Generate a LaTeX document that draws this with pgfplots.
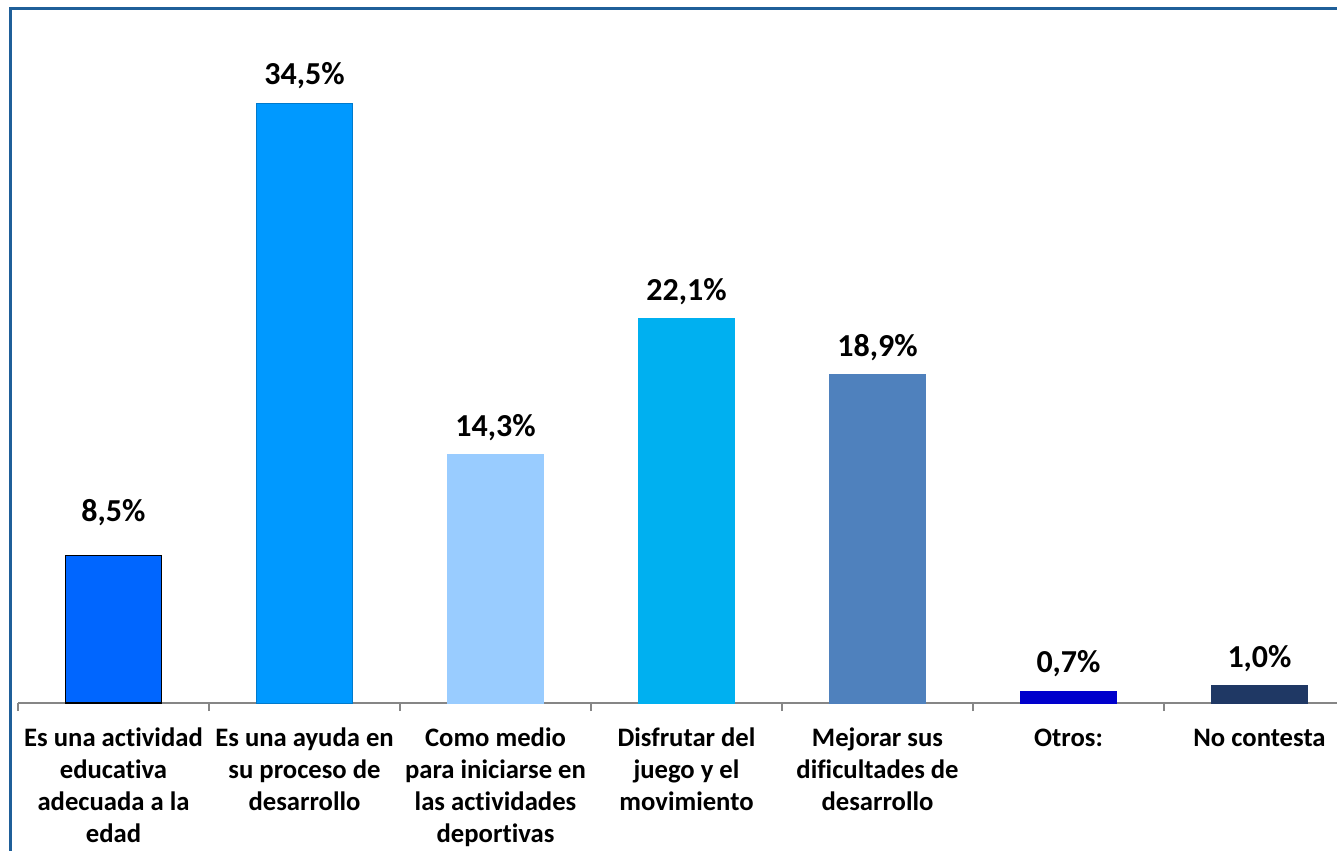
\documentclass[border=0pt]{standalone}
\usepackage{fontspec}
\setmainfont{Carlito}[Ligatures={NoCommon}]
\usepackage{pgfplots}
\pgfplotsset{compat=1.18}
\definecolor{frameblue}{RGB}{31,95,153}
\definecolor{axisgray}{RGB}{134,134,134}
\definecolor{cA}{RGB}{0,102,255}
\definecolor{cB}{RGB}{0,153,255}
\definecolor{cC}{RGB}{153,204,255}
\definecolor{cD}{RGB}{0,176,240}
\definecolor{cE}{RGB}{79,129,189}
\definecolor{cF}{RGB}{0,0,204}
\definecolor{cG}{RGB}{31,56,100}

\begin{document}
\begin{tikzpicture}
\useasboundingbox (0,0) rectangle (1002.75pt,637.5pt);
\clip (0,0) rectangle (1002.75pt,637.5pt);
\begin{axis}[
    at={(13.5pt,110.25pt)}, anchor=south west,
    scale only axis,
    width=1002.75pt, height=469.6pt,
    xmin=-0.5, xmax=6.5,
    ymin=0, ymax=36,
    ybar, bar width=72pt, bar shift=0pt,
    axis x line*=bottom,
    axis y line=none,
    axis line style={axisgray, line width=0.9pt},
    xtick={0,...,6},
    major tick length=0pt,
    xticklabels={
        {Es una actividad\\educativa\\adecuada a la\\edad},
        {Es una ayuda en\\su proceso de\\desarrollo},
        {Como medio\\para iniciarse en\\las actividades\\deportivas},
        {Disfrutar del\\juego y el\\movimiento},
        {Mejorar sus\\dificultades de\\desarrollo},
        {Otros:},
        {No contesta}},
    typeset ticklabels with strut,
    xticklabel style={font=\bfseries\fontsize{20}{24}\selectfont, align=center, anchor=north, yshift=-12pt},
    extra x ticks={-0.5,0.5,1.5,2.5,3.5,4.5,5.5,6.5},
    extra x tick labels={},
    extra x tick style={major tick length=6pt, tick align=outside, tick style={axisgray, line width=0.9pt}},
    nodes near coords={\pgfmathprintnumber[fixed,fixed zerofill,precision=1,use comma,assume math mode=true]{\pgfplotspointmeta}\%},
    every node near coord/.append style={font=\bfseries\fontsize{24}{28}\selectfont, anchor=base, yshift=13.5pt, text=black},
]
\addplot[fill=cA, draw=black, line width=0.8pt, every node near coord/.append style={yshift=12pt}] coordinates {(0,8.5)};
\addplot[fill=cB, draw=cB!80!black, line width=0.6pt] coordinates {(1,34.5)};
\addplot[fill=cC, draw=cC] coordinates {(2,14.3)};
\addplot[fill=cD, draw=cD] coordinates {(3,22.1)};
\addplot[fill=cE, draw=cE] coordinates {(4,18.9)};
\addplot[fill=cF, draw=cF] coordinates {(5,0.7)};
\addplot[fill=cG, draw=cG] coordinates {(6,1.0)};
\end{axis}
\draw[frameblue, line width=2.25pt] (7.9pt,-5pt) -- (7.9pt,631.1pt) -- (1010pt,631.1pt);
\end{tikzpicture}
\end{document}
